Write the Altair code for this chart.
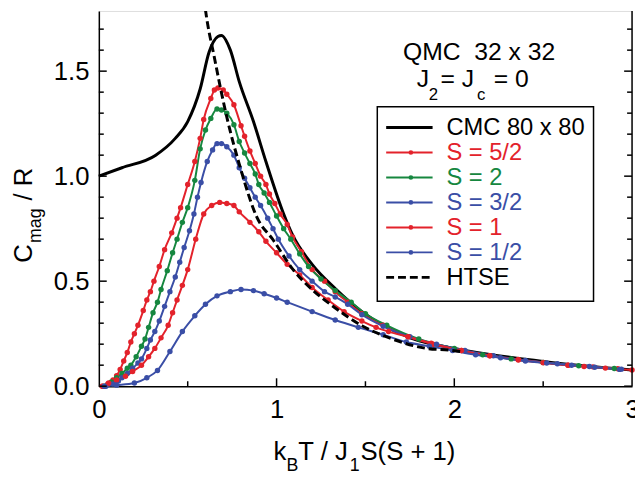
import altair as alt
import pandas as pd

RED = "#e3222b"
GREEN = "#16873f"
BLUE = "#3a4ea6"
BLACK = "#000000"

# ---- data ----
cmc_x = [0.0, 0.13, 0.32, 0.43, 0.5, 0.57, 0.62, 0.67, 0.69, 0.74, 0.79, 0.87, 0.94, 1.04, 1.09, 1.2, 1.33, 1.48, 1.76, 2.0, 2.5, 3.0]
cmc_y = [1.0, 1.04, 1.10, 1.18, 1.26, 1.415, 1.59, 1.665, 1.67, 1.60, 1.45, 1.26, 1.07, 0.82, 0.72, 0.58, 0.465, 0.355, 0.228, 0.18, 0.118, 0.077]

htse_x = [0.59, 0.611, 0.648, 0.685, 0.726, 0.796, 0.889, 0.981, 1.093, 1.2, 1.315, 1.48, 1.65, 1.85, 1.98, 2.05]
htse_y = [1.85, 1.73, 1.574, 1.417, 1.26, 1.04, 0.805, 0.696, 0.555, 0.46, 0.382, 0.288, 0.225, 0.179, 0.171, 0.163]

s52_x = [0.02, 0.05, 0.08, 0.10, 0.12, 0.14, 0.16, 0.18, 0.20, 0.22, 0.25, 0.27, 0.29, 0.31, 0.34, 0.37, 0.41, 0.44, 0.46, 0.50, 0.54, 0.57, 0.59, 0.63, 0.65, 0.67, 0.70, 0.72, 0.76, 0.80, 0.82, 0.85, 0.88, 0.91, 0.94, 0.96, 0.99, 1.02, 1.06, 1.09, 1.14, 1.20, 1.27, 1.33, 1.40, 1.48, 1.60, 1.74, 1.88, 2.04, 2.20, 2.36, 2.50, 2.64, 2.78, 2.92]
s52_y = [0.00, 0.01, 0.03, 0.05, 0.08, 0.12, 0.16, 0.21, 0.25, 0.29, 0.36, 0.41, 0.45, 0.50, 0.57, 0.65, 0.73, 0.80, 0.85, 0.96, 1.07, 1.18, 1.27, 1.37, 1.41, 1.42, 1.41, 1.39, 1.34, 1.24, 1.19, 1.12, 1.06, 1.00, 0.96, 0.915, 0.87, 0.82, 0.77, 0.71, 0.64, 0.555, 0.50, 0.45, 0.40, 0.345, 0.29, 0.235, 0.20, 0.17, 0.145, 0.127, 0.113, 0.10, 0.092, 0.083]

s2_x = [0.03, 0.07, 0.10, 0.13, 0.16, 0.18, 0.21, 0.24, 0.26, 0.28, 0.305, 0.33, 0.35, 0.385, 0.415, 0.44, 0.47, 0.50, 0.54, 0.57, 0.60, 0.63, 0.665, 0.69, 0.72, 0.76, 0.79, 0.82, 0.85, 0.88, 0.90, 0.93, 0.96, 1.00, 1.04, 1.08, 1.13, 1.18, 1.25, 1.33, 1.42, 1.50, 1.62, 1.80, 2.00, 2.16, 2.32, 2.50, 2.70, 2.90]
s2_y = [0.00, 0.02, 0.04, 0.06, 0.085, 0.10, 0.14, 0.19, 0.225, 0.28, 0.35, 0.40, 0.46, 0.55, 0.635, 0.70, 0.78, 0.85, 0.98, 1.13, 1.22, 1.275, 1.32, 1.315, 1.30, 1.245, 1.165, 1.11, 1.06, 1.01, 0.96, 0.92, 0.875, 0.81, 0.75, 0.70, 0.63, 0.57, 0.51, 0.455, 0.40, 0.345, 0.29, 0.225, 0.18, 0.15, 0.13, 0.113, 0.097, 0.084]

s32_x = [0.04, 0.08, 0.11, 0.13, 0.16, 0.19, 0.22, 0.24, 0.27, 0.29, 0.315, 0.34, 0.37, 0.40, 0.43, 0.455, 0.48, 0.51, 0.535, 0.555, 0.575, 0.61, 0.64, 0.665, 0.69, 0.72, 0.76, 0.79, 0.82, 0.85, 0.88, 0.91, 0.95, 0.98, 1.01, 1.07, 1.13, 1.20, 1.27, 1.33, 1.40, 1.48, 1.60, 1.75, 1.90, 2.06, 2.22, 2.40, 2.58, 2.76, 2.94]
s32_y = [0.00, 0.01, 0.025, 0.04, 0.06, 0.085, 0.11, 0.13, 0.18, 0.22, 0.26, 0.31, 0.38, 0.45, 0.52, 0.59, 0.66, 0.74, 0.82, 0.90, 0.97, 1.07, 1.125, 1.155, 1.155, 1.14, 1.10, 1.04, 0.99, 0.945, 0.90, 0.86, 0.80, 0.75, 0.70, 0.62, 0.555, 0.50, 0.45, 0.425, 0.39, 0.34, 0.285, 0.235, 0.20, 0.17, 0.145, 0.123, 0.107, 0.094, 0.081]

s1_x = [0.02, 0.055, 0.10, 0.15, 0.19, 0.24, 0.28, 0.315, 0.35, 0.39, 0.415, 0.44, 0.47, 0.50, 0.545, 0.59, 0.635, 0.68, 0.72, 0.76, 0.79, 0.85, 0.90, 0.94, 1.00, 1.06, 1.13, 1.20, 1.29, 1.38, 1.48, 1.56, 1.63, 1.74, 1.87, 2.04, 2.20, 2.36, 2.50, 2.64, 2.73, 2.85, 3.00]
s1_y = [0.00, 0.015, 0.03, 0.047, 0.07, 0.10, 0.14, 0.18, 0.23, 0.29, 0.35, 0.41, 0.48, 0.555, 0.70, 0.82, 0.86, 0.875, 0.87, 0.86, 0.83, 0.78, 0.735, 0.69, 0.635, 0.58, 0.53, 0.47, 0.41, 0.355, 0.31, 0.28, 0.26, 0.235, 0.205, 0.17, 0.145, 0.125, 0.112, 0.10, 0.094, 0.086, 0.077]

s12_x = [0.03, 0.10, 0.20, 0.27, 0.33, 0.40, 0.47, 0.54, 0.60, 0.665, 0.74, 0.80, 0.87, 0.93, 1.00, 1.06, 1.20, 1.33, 1.46, 1.60, 1.73, 1.86, 1.99, 2.12, 2.26, 2.40, 2.52, 2.66, 2.79, 2.93]
s12_y = [0.00, 0.005, 0.015, 0.04, 0.075, 0.165, 0.26, 0.335, 0.39, 0.43, 0.45, 0.46, 0.455, 0.44, 0.42, 0.40, 0.355, 0.315, 0.28, 0.245, 0.21, 0.19, 0.17, 0.15, 0.135, 0.12, 0.11, 0.10, 0.09, 0.08]

series_names = ["S = 5/2", "S = 2", "S = 3/2", "S = 1", "S = 1/2"]
series_colors = [RED, GREEN, BLUE, RED, BLUE]
series_xy = [(s52_x, s52_y), (s2_x, s2_y), (s32_x, s32_y), (s1_x, s1_y), (s12_x, s12_y)]

y_major = [0.0, 0.5, 1.0, 1.5]
y_minor = [0.1, 0.2, 0.3, 0.4, 0.6, 0.7, 0.8, 0.9, 1.1, 1.2, 1.3, 1.4, 1.6, 1.7]
x_major = [1, 2]
x_minor = [0.5, 1.5, 2.5]

leg_labels = ["CMC 80 x 80", "S = 5/2", "S = 2", "S = 3/2", "S = 1", "S = 1/2", "HTSE"]
leg_colors = [BLACK, RED, GREEN, BLUE, RED, BLUE, BLACK]
leg_point = [False, True, True, True, True, True, False]
leg_dash = [False, False, False, False, False, False, True]
leg_width = [3, 2, 2, 2, 2, 2, 3]

# horizontal annotation texts (plot-relative pixel positions)
ann_text = ["QMC\u00a0 32 x 32", "J", "2", "= J", "c", "= 0",
            "k", "B", "T / J", "1", "S(S + 1)"]
ann_x = [308, 322, 334, 346, 383, 400, 177, 190, 202, 254, 265]
ann_y = [50, 77, 90, 77, 90, 77, 455, 466, 455, 466, 455]
ann_size = [25, 25, 17, 25, 17, 25, 26, 18, 26, 18, 26]
# rotated y-axis title pieces
rot_text = ["C", "mag", "/ R"]
rot_x = [-68, -59, -68]
rot_y = [255, 235, 192]
rot_size = [26, 18, 26]

W, H = 540, 380
FONT = "Liberation Sans"

# ---- tables ----
cmc_df = pd.DataFrame({"x": cmc_x, "y": cmc_y})
htse_df = pd.DataFrame({"x": htse_x, "y": htse_y})
rows = []
for name, (xs, ys) in zip(series_names, series_xy):
    for xv, yv in zip(xs, ys):
        rows.append({"series": name, "x": xv, "y": yv})
qmc_df = pd.DataFrame(rows)

leg_df = pd.DataFrame({
    "label": leg_labels, "lc": leg_colors, "pt": leg_point,
    "dash": leg_dash, "lw": leg_width,
    "ly": [118 + 25.3 * i for i in range(len(leg_labels))],
})
ann_df = pd.DataFrame({"t": ann_text, "px": ann_x, "py": ann_y, "fs": ann_size})
rot_df = pd.DataFrame({"t": rot_text, "px": rot_x, "py": rot_y, "fs": rot_size})

xscale = alt.Scale(domain=[0, 3], nice=False)
yscale = alt.Scale(domain=[0, 380 / 212.7], nice=False)

xaxis = alt.Axis(values=[0, 1, 2, 3], format="d", ticks=False, grid=False,
                 domain=True, domainColor=BLACK, domainWidth=1.5, title=None,
                 labelFontSize=26, labelFont=FONT, labelColor=BLACK,
                 labelPadding=11, labelFlush=False, labelOverlap=False)
yaxis = alt.Axis(values=y_major, format=".1f", ticks=False, grid=False,
                 domain=True, domainColor=BLACK, domainWidth=1.5, title=None,
                 labelFontSize=26, labelFont=FONT, labelColor=BLACK,
                 labelPadding=10, labelFlush=False, labelOverlap=False)

X = alt.X("x:Q", scale=xscale, axis=xaxis)
Y = alt.Y("y:Q", scale=yscale, axis=yaxis)

cmc = alt.Chart(cmc_df).mark_line(color=BLACK, strokeWidth=3, interpolate="monotone").encode(x=X, y=Y)
htse = alt.Chart(htse_df).mark_line(color=BLACK, strokeWidth=3, strokeDash=[8, 4],
                                    interpolate="monotone", clip=True).encode(x=X, y=Y)
qmc = alt.Chart(qmc_df).mark_line(
    strokeWidth=2, interpolate="monotone",
    point=alt.OverlayMarkDef(filled=True, size=30, opacity=1)
).encode(
    x=X, y=Y,
    color=alt.Color("series:N", scale=alt.Scale(domain=series_names, range=series_colors), legend=None),
)

def tick_layer(vals, channel, length, side):
    df = pd.DataFrame({"v": vals})
    c = alt.Chart(df).mark_rule(color=BLACK, strokeWidth=1.5)
    if channel == "y":
        yy = alt.Y("v:Q", scale=yscale, axis=yaxis)
        if side == "left":
            return c.encode(y=yy, x=alt.value(0), x2=alt.value(length))
        return c.encode(y=yy, x=alt.value(W), x2=alt.value(W - length))
    return c.encode(x=alt.X("v:Q", scale=xscale, axis=xaxis), y=alt.value(H), y2=alt.value(H - length))

ticks = [
    tick_layer(y_major, "y", 8, "left"), tick_layer(y_minor, "y", 5, "left"),
    tick_layer(y_major, "y", 8, "right"), tick_layer(y_minor, "y", 5, "right"),
    tick_layer(x_major, "x", 8, "bottom"), tick_layer(x_minor, "x", 5, "bottom"),
]
right_frame = alt.Chart(pd.DataFrame({"a": [0]})).mark_rule(color=BLACK, strokeWidth=1.5).encode(
    x=alt.value(W), y=alt.value(0), y2=alt.value(H))

# legend
box = alt.Chart(pd.DataFrame({"a": [0]})).mark_rect(fill="white", stroke=BLACK, strokeWidth=1.5).encode(
    x=alt.value(282), x2=alt.value(501), y=alt.value(97), y2=alt.value(294))
LY = alt.Y("ly:Q", scale=None)
leg_solid = alt.Chart(leg_df).transform_filter("!datum.dash").mark_rule().encode(
    x=alt.value(291), x2=alt.value(338), y=LY,
    color=alt.Color("lc:N", scale=None), strokeWidth=alt.StrokeWidth("lw:Q", scale=None))
leg_dashed = alt.Chart(leg_df).transform_filter("datum.dash").mark_rule(strokeDash=[8, 4]).encode(
    x=alt.value(291), x2=alt.value(338), y=LY,
    color=alt.Color("lc:N", scale=None), strokeWidth=alt.StrokeWidth("lw:Q", scale=None))
leg_pts = alt.Chart(leg_df).transform_filter("datum.pt").mark_point(filled=True, size=22, opacity=1).encode(
    x=alt.value(316), y=LY, color=alt.Color("lc:N", scale=None))
leg_txt = alt.Chart(leg_df).mark_text(align="left", baseline="middle", fontSize=24, font=FONT, dy=1).encode(
    x=alt.value(352), y=LY, text="label:N", color=alt.Color("lc:N", scale=None))

ann = alt.Chart(ann_df).mark_text(align="left", baseline="alphabetic", font=FONT, color=BLACK).encode(
    x=alt.X("px:Q", scale=None), y=alt.Y("py:Q", scale=None), text="t:N",
    size=alt.Size("fs:Q", scale=None))
rot = alt.Chart(rot_df).mark_text(align="left", baseline="alphabetic", font=FONT, color=BLACK, angle=270).encode(
    x=alt.X("px:Q", scale=None), y=alt.Y("py:Q", scale=None), text="t:N",
    size=alt.Size("fs:Q", scale=None))

chart = alt.layer(
    cmc, qmc, htse, *ticks, right_frame, box, leg_solid, leg_dashed, leg_pts, leg_txt, ann, rot
).properties(
    width=W, height=H,
    padding={"left": 92, "top": 0, "right": 3, "bottom": 91},
    autosize=alt.AutoSizeParams(type="none"),
).configure_view(strokeWidth=0).configure(background="white")

chart.save("out.html", embed_options={"renderer": "svg", "actions": False})
